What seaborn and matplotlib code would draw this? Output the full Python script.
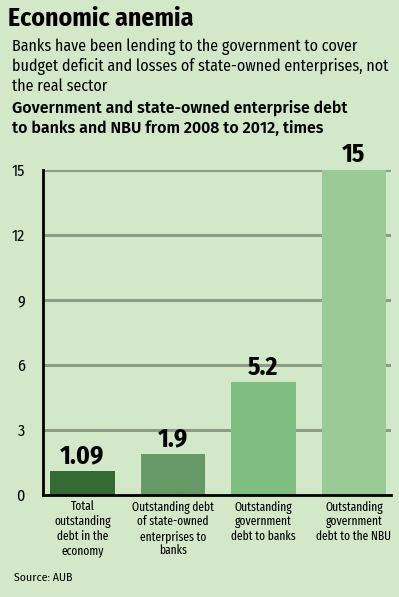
import matplotlib
matplotlib.use('Agg')
import matplotlib.pyplot as plt
import seaborn as sns
import pandas as pd

categories = [
    'Total\noutstanding\ndebt in the\neconomy',
    'Outstanding debt\nof state-owned\nenterprises to\nbanks',
    'Outstanding\ngovernment\ndebt to banks',
    'Outstanding\ngovernment\ndebt to the NBU',
]
values = [1.09, 1.9, 5.2, 15]
value_labels = ['1.09', '1.9', '5.2', '15']
y_ticks = [0, 3, 6, 9, 12, 15]
bar_colors = ['#346a34', '#669966', '#80bd80', '#9acb96']

BG = '#d3e8c9'
GRID = '#8c9c88'
FONT = ['Fira Sans Condensed', 'DejaVu Sans']
NARROW = ['Fira Sans Extra Condensed', 'Fira Sans Condensed', 'DejaVu Sans']
WIDE = ['Fira Sans', 'DejaVu Sans']

sns.set_style('white')
plt.rcParams['font.family'] = FONT
plt.rcParams['text.color'] = 'black'
plt.rcParams['xtick.color'] = 'black'
plt.rcParams['ytick.color'] = 'black'

fig = plt.figure(figsize=(3.99, 5.97), dpi=100)
fig.patch.set_facecolor(BG)
ax = fig.add_axes([0.1078, 0.1709, 0.8722, 0.5443])
ax.set_facecolor(BG)

df = pd.DataFrame({'cat': categories, 'val': values})
sns.barplot(data=df, x='cat', y='val', hue='cat', palette=bar_colors,
            legend=False, width=0.71, saturation=1, linewidth=0,
            ax=ax, zorder=3)

ax.set_xlim(-0.436, 3.41)
ax.set_ylim(0, 15)
ax.set_yticks(y_ticks)
ax.set_yticklabels([str(t) for t in y_ticks], fontsize=11.5)
for t in y_ticks[1:]:
    ax.axhline(t, color=GRID, linewidth=2.2, zorder=1)

ax.set_xlabel('')
ax.set_ylabel('')
ax.set_xticks(range(len(categories)))
ax.set_xticklabels(categories, fontfamily=NARROW, fontsize=9,
                   linespacing=1.2, va='top')
ax.tick_params(axis='y', length=9, width=2, color='black', pad=4)
ax.tick_params(axis='x', length=0, pad=4)

for side in ['top', 'right']:
    ax.spines[side].set_visible(False)
ax.spines['left'].set_linewidth(2)
ax.spines['bottom'].set_linewidth(2)
ax.spines['left'].set_color('black')
ax.spines['bottom'].set_color('black')
ax.spines['bottom'].set_zorder(5)

for i, (v, s) in enumerate(zip(values, value_labels)):
    ax.text(i, v + 0.12, s, ha='center', va='bottom', fontsize=18.5,
            fontweight='bold', clip_on=False)

fig.text(0.02, 0.969, 'Economic anemia', fontsize=18.5, fontweight='bold',
         va='center', ha='left')
fig.text(0.03, 0.936, 'Banks have been lending to the government to cover\n'
         'budget deficit and losses of state-owned enterprises, not\n'
         'the real sector', fontsize=11.5, va='top', ha='left', linespacing=1.25)
fig.text(0.03, 0.833, 'Government and state-owned enterprise debt\n'
         'to banks and NBU from 2008 to 2012, times', fontsize=11.5,
         fontweight='semibold', va='top', ha='left', linespacing=1.36,
         family=WIDE)
fig.text(0.035, 0.032, 'Source: AUB', fontsize=8.5, va='center', ha='left')

fig.savefig('out.png', dpi=100, facecolor=BG)
